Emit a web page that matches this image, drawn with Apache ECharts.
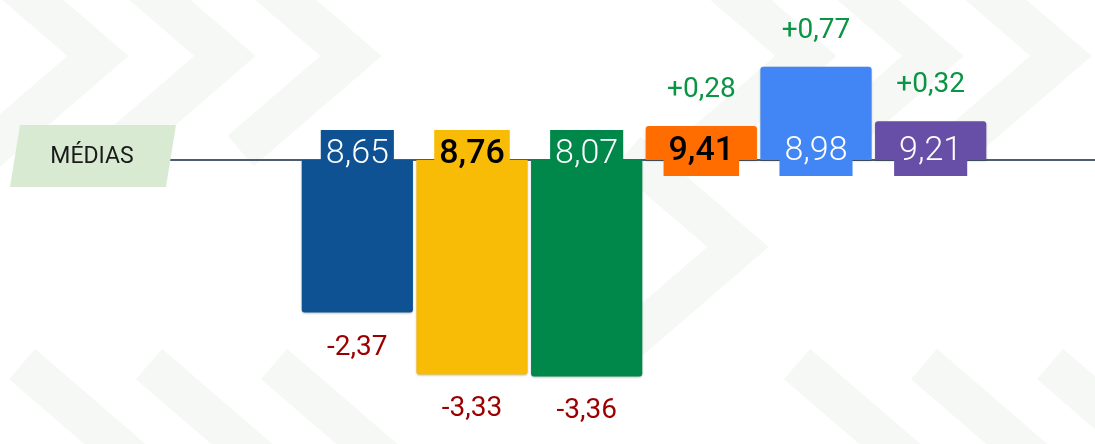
<!DOCTYPE html>
<html>
<head>
<meta charset="utf-8">
<script src="https://cdn.jsdelivr.net/npm/echarts@6/dist/echarts.min.js"></script>
<style>
  html, body { margin: 0; padding: 0; background: #fff; }
  #chart { width: 1095px; height: 444px; }
</style>
</head>
<body>
<div id="chart"></div>
<script>
// dados
const categories = ['1', '2', '3', '4', '5', '6'];
const means = [8.65, 8.76, 8.07, 9.41, 8.98, 9.21];
const deltas = [-2.37, -3.33, -3.36, 0.28, 0.77, 0.32];

const barColors = ['#0f5294', '#f8bc06', '#00874a', '#ff6d01', '#4285f4', '#674ea7'];
const meanTextColors = ['#ffffff', '#000000', '#ffffff', '#000000', '#ffffff', '#ffffff'];

const fmt = v => v.toFixed(2).replace('.', ',');

const chart = echarts.init(document.getElementById('chart'));

// chevrons decorativos de fundo
const bg = [];
function chevron (tipX, tipY, half, slope) {
  const vx = tipX - 32;
  bg.push({
    type: 'polyline',
    silent: true,
    z: 0,
    shape: { points: [[vx - half / slope, tipY - half], [vx, tipY], [vx - half / slope, tipY + half]] },
    style: { stroke: '#f5f8f5', lineWidth: 40, fill: null }
  });
}
[130, 257, 383, 838, 965, 1093].forEach(x => chevron(x, 56, 95, 0.86));
chevron(770, 247, 95, 0.86);
[0, 127, 252, 775, 902, 1028].forEach(x => {
  bg.push({
    type: 'polyline',
    silent: true,
    z: 0,
    shape: { points: [[x + 22, 364], [x + 22 + 130, 364 + 112]] },
    style: { stroke: '#f5f8f5', lineWidth: 40, fill: null }
  });
});

const negData = deltas.map((v, i) => v < 0 ? { value: v, itemStyle: { color: barColors[i] } } : '-');
const posData = deltas.map((v, i) => v > 0 ? { value: v, itemStyle: { color: barColors[i] } } : '-');

chart.setOption({
  animation: false,
  grid: { left: 300, right: 107, top: 0, bottom: 0 },
  xAxis: {
    type: 'category',
    data: categories,
    axisLine: { show: false },
    axisTick: { show: false },
    axisLabel: { show: false }
  },
  yAxis: [
    { type: 'value', min: -4.41, max: 2.484, show: false, splitLine: { show: false } },
    { type: 'value', min: -2.347, max: 1.322, show: false, splitLine: { show: false } }
  ],
  graphic: bg.concat([
    {
      type: 'line',
      silent: true,
      z: 1,
      shape: { x1: 166, y1: 160, x2: 1095, y2: 160 },
      style: { stroke: '#4b5d6e', lineWidth: 2 }
    },
    {
      type: 'polygon',
      silent: true,
      z: 5,
      shape: { points: [[20, 125], [176, 125], [166, 187], [10, 187]] },
      style: { fill: '#d9ead3' }
    },
    {
      type: 'text',
      silent: true,
      z: 6,
      x: 92,
      y: 157,
      style: {
        text: 'MÉDIAS',
        fontFamily: 'Roboto',
        fontSize: 23,
        fill: '#1a1a1a',
        align: 'center',
        verticalAlign: 'middle'
      }
    }
  ]),
  series: [
    {
      type: 'bar',
      yAxisIndex: 0,
      data: negData,
      barGap: '-100%',
      barCategoryGap: '3%',
      z: 2,
      itemStyle: {
        borderRadius: [0, 0, 3, 3],
        shadowColor: 'rgba(0,0,0,0.25)',
        shadowBlur: 2,
        shadowOffsetY: 1
      },
      label: {
        show: true,
        position: 'bottom',
        distance: 21,
        color: '#9b0000',
        fontFamily: 'Roboto',
        fontSize: 28,
        formatter: p => fmt(p.value)
      }
    },
    {
      type: 'bar',
      yAxisIndex: 1,
      data: posData,
      barGap: '-100%',
      barCategoryGap: '3%',
      z: 2,
      itemStyle: {
        borderRadius: [3, 3, 0, 0],
        shadowColor: 'rgba(0,0,0,0.25)',
        shadowBlur: 2,
        shadowOffsetY: 1
      },
      label: {
        show: true,
        position: 'top',
        distance: 22,
        color: '#0b9444',
        fontFamily: 'Roboto',
        fontSize: 28,
        formatter: p => '+' + fmt(p.value)
      }
    },
    {
      // caixas com as médias sobre a linha
      type: 'scatter',
      yAxisIndex: 0,
      symbolSize: 0,
      z: 4,
      silent: true,
      itemStyle: { opacity: 1 },
      data: means.map((m, i) => ({
        value: [i, 0],
        label: {
          backgroundColor: barColors[i],
          color: meanTextColors[i],
          fontWeight: meanTextColors[i] === '#000000' ? 500 : 300,
          padding: deltas[i] < 0 ? [7, 5, 10, 5] : [8, 5, 8, 5],
          offset: deltas[i] < 0 ? [0, -5.5] : [0, -8]
        }
      })),
      label: {
        show: true,
        opacity: 1,
        position: 'inside',
        fontFamily: 'Roboto',
        fontSize: 34,
        lineHeight: 32,
        formatter: p => fmt(means[p.dataIndex])
      }
    }
  ]
});
</script>
</body>
</html>
